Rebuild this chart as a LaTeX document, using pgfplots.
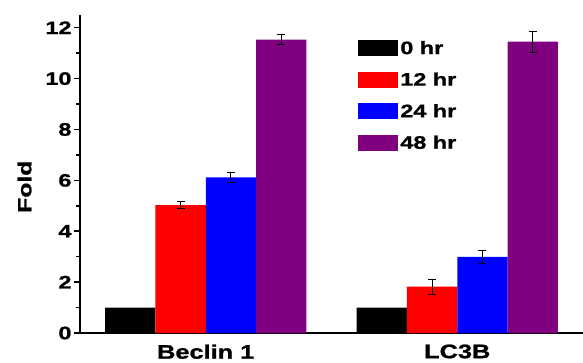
\documentclass[border=0pt]{standalone}
\usepackage{fontspec}
\setmainfont{Liberation Sans}[FakeStretch=1.3, BoldFeatures={FakeBold=1.2}]
\usepackage{pgfplots}
\pgfplotsset{compat=1.18}
\definecolor{cpurple}{HTML}{800080}
\begin{document}
\begin{tikzpicture}
\useasboundingbox (-80pt,-29pt) rectangle (503pt,333pt);
\begin{axis}[
  scale only axis,
  width=503pt, height=318pt,
  xmin=-0.5, xmax=1.5,
  ymin=0, ymax=12.5,
  axis lines*=left,
  axis line style={line width=1.8pt},
  ybar, bar width=0.2,
  xtick={0,1},
  xticklabels={Beclin 1, LC3B},
  x tick style={draw=none},
  xticklabel style={font=\bfseries\fontsize{19.5}{21}\selectfont, yshift=-2pt},
  ytick={0,2,4,6,8,10,12},
  minor y tick num=1,
  y tick style={line width=1.5pt, black},
  tick align=outside,
  major tick length=6pt,
  minor tick length=4pt,
  /pgf/number format/assume math mode=true,
  yticklabel style={font=\bfseries\fontsize{18}{20}\selectfont, xshift=1pt},
  ylabel={Fold},
  ylabel style={font=\bfseries\fontsize{19}{21}\selectfont, at={(axis description cs:0,0.46)}, anchor=south, yshift=45pt},
  legend style={at={(0.553,0.925)}, anchor=north west, draw=none, fill=none,
    font=\bfseries\fontsize{18}{20}\selectfont, row sep=13pt, inner sep=0pt,
    /tikz/every even column/.append style={column sep=6pt}},
  legend cell align=left,
  legend image code/.code={\fill[#1] (0pt,-8pt) rectangle (40pt,8pt);},
  error bars/error bar style={line width=1pt, black},
  error bars/error mark options={rotate=90, mark size=4pt, line width=1pt, black},
]
\addplot[fill=black, draw=none, bar shift=-0.3] coordinates {(0,1) (1,1)};
\addplot[fill=red, draw=none, bar shift=-0.1, error bars/.cd, y dir=both, y explicit]
  coordinates {(0,5.03) +- (0,0.15) (1,1.82) +- (0,0.29)};
\addplot[fill=blue, draw=none, bar shift=0.1, error bars/.cd, y dir=both, y explicit]
  coordinates {(0,6.12) +- (0,0.2) (1,2.99) +- (0,0.25)};
\addplot[fill=cpurple, draw=none, bar shift=0.3, error bars/.cd, y dir=both, y explicit]
  coordinates {(0,11.53) +- (0,0.2) (1,11.45) +- (0,0.42)};
\legend{0 hr, 12 hr, 24 hr, 48 hr}
\end{axis}
\end{tikzpicture}
\end{document}
